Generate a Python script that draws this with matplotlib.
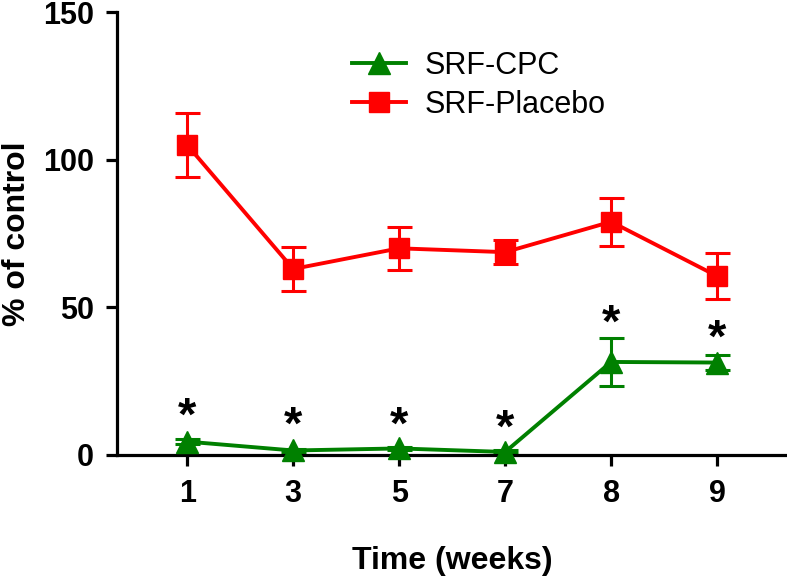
import numpy as np
import matplotlib
matplotlib.use('Agg')
from matplotlib import pyplot as plt

# Data
weeks = ['1', '3', '5', '7', '8', '9']
cpc_mean = [4.5, 1.5, 2.2, 1.0, 31.5, 31.3]
cpc_err = [0.8, 0.6, 0.6, 0.5, 8.0, 2.6]
placebo_mean = [105.0, 63.0, 70.0, 68.7, 79.0, 60.6]
placebo_err = [11.0, 7.3, 7.3, 4.0, 8.2, 7.8]
star_y = [12.5, 9.5, 9.5, 8.5, 44.0, 39.0]

plt.rcParams['font.family'] = ['Liberation Sans', 'DejaVu Sans']

fig = plt.figure(figsize=(7.87, 5.81), dpi=100)
ax = fig.add_axes([0.149, 0.217, 0.851, 0.762])

x = np.arange(len(weeks))
green = '#008000'
red = '#ff0000'

ax.errorbar(x, placebo_mean, yerr=placebo_err, fmt='none', ecolor=red,
            elinewidth=2.2, capsize=9, capthick=2.2, zorder=2)
ax.plot(x, placebo_mean, color=red, lw=2.8, marker='s', markersize=14,
        label='SRF-Placebo', zorder=3)
ax.errorbar(x, cpc_mean, yerr=cpc_err, fmt='none', ecolor=green,
            elinewidth=2.2, capsize=9, capthick=2.2, zorder=2)
ax.plot(x, cpc_mean, color=green, lw=2.8, marker='^', markersize=16,
        label='SRF-CPC', zorder=3, clip_on=False)

for xi, yi in zip(x, star_y):
    ax.text(xi, yi, '*', ha='center', va='center', fontsize=34,
            fontweight='bold')

ax.set_xlim(-0.66, 5.66)
ax.set_ylim(0, 150)
ax.set_xticks(x)
ax.set_xticklabels(weeks)
ax.set_yticks([0, 50, 100, 150])

for s in ['top', 'right']:
    ax.spines[s].set_visible(False)
for s in ['left', 'bottom']:
    ax.spines[s].set_linewidth(2.3)

ax.tick_params(axis='both', length=8, width=2.3, labelsize=22, pad=9)
for lab in ax.get_xticklabels() + ax.get_yticklabels():
    lab.set_fontweight('bold')

ax.set_xlabel('Time (weeks)', fontsize=23, fontweight='bold', labelpad=27)
ax.set_ylabel('% of control', fontsize=23, fontweight='bold', labelpad=8)

h, l = ax.get_legend_handles_labels()
ax.legend(h[::-1], l[::-1], loc='upper left', bbox_to_anchor=(0.31, 0.975),
          frameon=False, fontsize=22, handlelength=1.75, handletextpad=0.6,
          labelspacing=0.3)

fig.savefig('out.png', dpi=100)
